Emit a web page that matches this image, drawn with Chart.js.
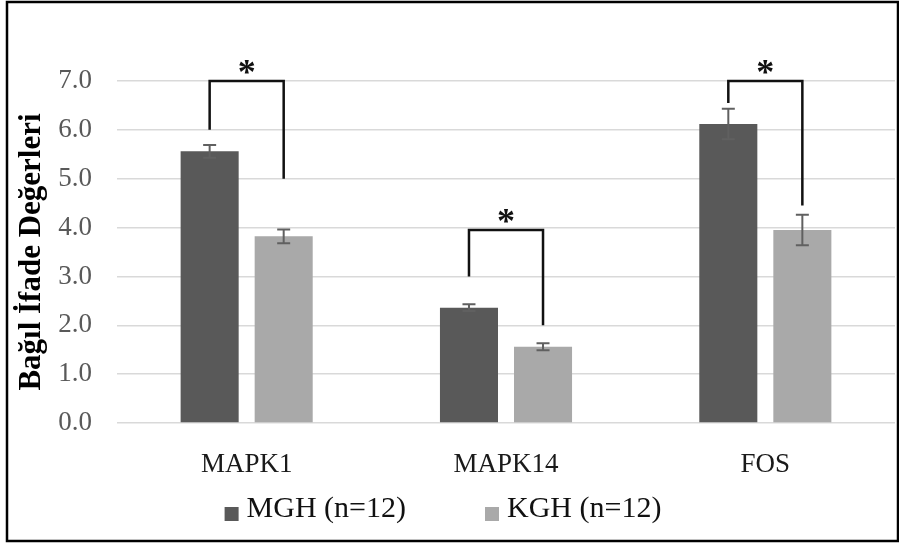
<!DOCTYPE html>
<html>
<head>
<meta charset="utf-8">
<script src="https://cdn.jsdelivr.net/npm/chart.js@4.4.1/dist/chart.umd.min.js"></script>
<style>
    html, body { margin: 0; padding: 0; background: #fff; }
    #wrap { width: 899px; height: 544px; }
</style>
</head>
<body>
<div id="wrap"><canvas id="chart" width="899" height="544"></canvas></div>
<script>
// Data
const genes = ['MAPK1', 'MAPK14', 'FOS'];
const mghValues = [5.56, 2.36, 6.12];
const mghErrors = [0.13, 0.07, 0.31];
const kghValues = [3.82, 1.56, 3.95];
const kghErrors = [0.14, 0.07, 0.31];
const yTicks = [0, 1, 2, 3, 4, 5, 6, 7];

// Significance brackets, in axis units: left leg start, bracket top, right leg end
const bracketLeftFrom = [6.0, 3.0, 6.55];
const bracketTop = [7.0, 3.95, 7.0];
const bracketRightTo = [5.0, 2.0, 4.45];
const bracketMarks = ['*', '*', '*'];

const SERIF = "'Liberation Serif', 'Times New Roman', serif";

// Error bars on top of each bar
const errorBarPlugin = {
    id: 'errorBars',
    afterDatasetsDraw(chart) {
        const { ctx } = chart;
        const y = chart.scales.y;
        chart.data.datasets.forEach((ds, i) => {
            const meta = chart.getDatasetMeta(i);
            meta.data.forEach((bar, j) => {
                const v = ds.data[j];
                const e = ds.errors[j];
                const hi = y.getPixelForValue(v + e);
                const lo = y.getPixelForValue(v - e);
                ctx.save();
                ctx.strokeStyle = '#606060';
                ctx.lineWidth = 2;
                ctx.beginPath();
                ctx.moveTo(bar.x, hi);
                ctx.lineTo(bar.x, lo);
                ctx.moveTo(bar.x - 6.5, hi);
                ctx.lineTo(bar.x + 6.5, hi);
                ctx.moveTo(bar.x - 6.5, lo);
                ctx.lineTo(bar.x + 6.5, lo);
                ctx.stroke();
                ctx.restore();
            });
        });
    }
};

// Significance brackets with asterisks
const bracketPlugin = {
    id: 'brackets',
    afterDraw(chart) {
        const { ctx } = chart;
        const y = chart.scales.y;
        const m0 = chart.getDatasetMeta(0);
        const m1 = chart.getDatasetMeta(1);
        genes.forEach((g, j) => {
            const x1 = m0.data[j].x;
            const x2 = m1.data[j].x;
            const top = y.getPixelForValue(bracketTop[j]);
            ctx.save();
            ctx.strokeStyle = '#111';
            ctx.lineWidth = 2.5;
            ctx.lineJoin = 'miter';
            ctx.beginPath();
            ctx.moveTo(x1, y.getPixelForValue(bracketLeftFrom[j]));
            ctx.lineTo(x1, top);
            ctx.lineTo(x2, top);
            ctx.lineTo(x2, y.getPixelForValue(bracketRightTo[j]));
            ctx.stroke();

            ctx.font = 'bold 36px ' + SERIF;
            ctx.fillStyle = '#111';
            ctx.textAlign = 'center';
            ctx.textBaseline = 'alphabetic';
            const m = ctx.measureText(bracketMarks[j]);
            ctx.fillText(bracketMarks[j], (x1 + x2) / 2, top - 7.5 - m.actualBoundingBoxDescent);
            ctx.restore();
        });
    }
};

// Legend below the axis and the outer frame
const legendFramePlugin = {
    id: 'legendFrame',
    afterDraw(chart) {
        const { ctx, width, height } = chart;
        ctx.save();
        ctx.font = '30px ' + SERIF;
        ctx.textBaseline = 'alphabetic';
        ctx.textAlign = 'left';
        const box = 14, gap = 8, spacing = 79;
        const items = chart.data.datasets.map(ds => ({
            label: ds.label, color: ds.backgroundColor, w: ctx.measureText(ds.label).width
        }));
        const total = items.reduce((s, it) => s + box + gap + it.w, 0) + spacing * (items.length - 1);
        let x = width / 2 - 6.5 - total / 2;
        const base = height - 27;
        items.forEach(it => {
            ctx.fillStyle = it.color;
            ctx.fillRect(x, base - 10, box, box);
            ctx.fillStyle = '#111';
            ctx.fillText(it.label, x + box + gap, base);
            x += box + gap + it.w + spacing;
        });

        ctx.strokeStyle = '#000';
        ctx.lineWidth = 2.5;
        ctx.strokeRect(7, 2, 891, 539);
        ctx.restore();
    }
};

function init() {
    const ctx = document.getElementById('chart').getContext('2d');
    new Chart(ctx, {
        type: 'bar',
        data: {
            labels: genes,
            datasets: [{
                label: 'MGH (n=12)',
                data: mghValues,
                errors: mghErrors,
                backgroundColor: '#595959'
            }, {
                label: 'KGH (n=12)',
                data: kghValues,
                errors: kghErrors,
                backgroundColor: '#a9a9a9'
            }]
        },
        options: {
            responsive: false,
            animation: false,
            devicePixelRatio: 1,
            categoryPercentage: 0.571,
            barPercentage: 0.784,
            layout: { padding: { top: 81, right: 4, left: 0, bottom: 0 } },
            plugins: {
                legend: { display: false },
                tooltip: { enabled: false }
            },
            scales: {
                x: {
                    grid: { display: false },
                    border: { display: false },
                    ticks: { color: '#1a1a1a', font: { family: SERIF, size: 27 }, padding: 18 },
                    afterFit: s => { s.height = 121; }
                },
                y: {
                    min: 0,
                    max: 7,
                    afterBuildTicks: s => { s.ticks = yTicks.map(v => ({ value: v })); },
                    grid: { color: '#d9d9d9', lineWidth: 1.5, drawTicks: false },
                    border: { display: false },
                    ticks: {
                        color: '#595959',
                        font: { family: SERIF, size: 27 },
                        padding: 25,
                        callback: v => Number(v).toFixed(1)
                    },
                    title: {
                        display: true,
                        text: 'Bağıl İfade Değerleri',
                        color: '#000',
                        font: { family: SERIF, size: 31, weight: 'bold' },
                        padding: { top: 13, bottom: 0 }
                    },
                    afterFit: s => { s.width = 117; }
                }
            }
        },
        plugins: [errorBarPlugin, bracketPlugin, legendFramePlugin]
    });
}

document.addEventListener('DOMContentLoaded', init);
</script>
</body>
</html>
